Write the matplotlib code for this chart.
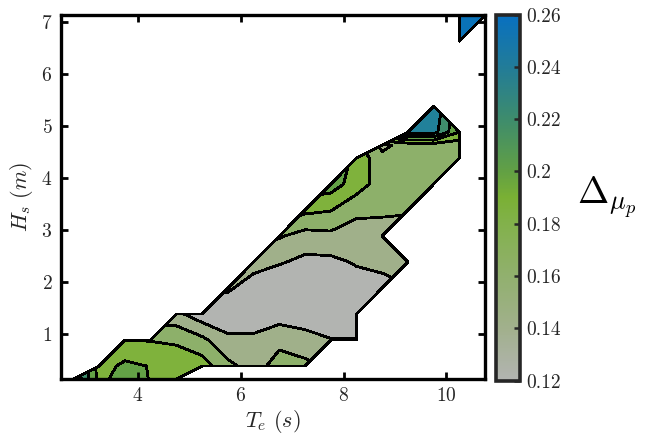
import numpy as np
import matplotlib
matplotlib.use("Agg")
import matplotlib.pyplot as plt
from matplotlib.colors import LinearSegmentedColormap, Normalize
from matplotlib.cm import ScalarMappable

plt.rcParams['font.family'] = 'serif'
plt.rcParams['font.serif'] = ['cmr10']
plt.rcParams['mathtext.fontset'] = 'cm'
plt.rcParams['axes.formatter.use_mathtext'] = True

nan = np.nan

# grid (energy period, significant wave height)
te = [2.75, 3.25, 3.75, 4.25, 4.75, 5.25, 5.75, 6.25, 6.75,
      7.25, 7.75, 8.25, 8.75, 9.25, 9.75, 10.25, 10.75]
hs = [0.125, 0.375, 0.875, 1.375, 1.875, 2.375, 2.875, 3.375,
      3.875, 4.375, 4.625, 4.875, 5.375, 5.875, 6.625, 7.125]

# delta mu_p, one row per Hs value (nan = no data)
delta_mu = [
    [0.26, 0.194, 0.21, 0.199, 0.19, nan, nan, nan, nan, nan, nan, nan, nan, nan, nan, nan, nan],
    [nan, 0.19, 0.205, 0.199, 0.188, 0.19, 0.165, 0.152, 0.168, 0.165, nan, nan, nan, nan, nan, nan, nan],
    [nan, nan, 0.18, 0.179, 0.178, 0.165, 0.145, 0.145, 0.155, 0.148, 0.141, 0.141, nan, nan, nan, nan, nan],
    [nan, nan, nan, nan, 0.145, 0.128, 0.125, 0.125, 0.13, 0.128, 0.125, 0.128, nan, nan, nan, nan, nan],
    [nan, nan, nan, nan, nan, nan, 0.143, 0.13, 0.122, 0.121, 0.122, 0.13, 0.136, nan, nan, nan, nan],
    [nan, nan, nan, nan, nan, nan, nan, 0.148, 0.142, 0.135, 0.135, 0.142, 0.143, 0.146, nan, nan, nan],
    [nan, nan, nan, nan, nan, nan, nan, nan, 0.162, 0.152, 0.155, 0.15, 0.152, nan, nan, nan, nan],
    [nan, nan, nan, nan, nan, nan, nan, nan, nan, 0.185, 0.181, 0.165, 0.163, 0.162, nan, nan, nan],
    [nan, nan, nan, nan, nan, nan, nan, nan, nan, nan, 0.21, 0.19, 0.17, 0.168, 0.165, nan, nan],
    [nan, nan, nan, nan, nan, nan, nan, nan, nan, nan, nan, 0.195, 0.165, 0.165, 0.166, 0.168, nan],
    [nan, nan, nan, nan, nan, nan, nan, nan, nan, nan, nan, nan, 0.155, 0.168, 0.17, 0.168, nan],
    [nan, nan, nan, nan, nan, nan, nan, nan, nan, nan, nan, nan, nan, 0.248, 0.248, 0.2, nan],
    [nan, nan, nan, nan, nan, nan, nan, nan, nan, nan, nan, nan, nan, nan, 0.255, nan, nan],
    [nan, nan, nan, nan, nan, nan, nan, nan, nan, nan, nan, nan, nan, nan, nan, nan, nan],
    [nan, nan, nan, nan, nan, nan, nan, nan, nan, nan, nan, nan, nan, nan, nan, 0.27, nan],
    [nan, nan, nan, nan, nan, nan, nan, nan, nan, nan, nan, nan, nan, nan, nan, 0.27, 0.27],
]

levels = [0.12, 0.14, 0.16, 0.18, 0.20, 0.22, 0.24, 0.26, 0.28]
band_colors = ['#b2b4b1', '#a0b08a', '#8db06a', '#7fb23c',
               '#63a146', '#3f8c6c', '#21819a', '#0a72b8']
cbar_ticks = [0.12, 0.14, 0.16, 0.18, 0.20, 0.22, 0.24, 0.26]
cbar_labels = ['0.12', '0.14', '0.16', '0.18', '0.2', '0.22', '0.24', '0.26']

# colormap used for the colorbar
cmap = LinearSegmentedColormap.from_list('gray_green_blue', [
    (0.0, '#b2b4b1'),
    (1 / 7, '#a1b08c'),
    (2 / 7, '#91b06e'),
    (3 / 7, '#82b14b'),
    (3.5 / 7, '#7ab034'),
    (4 / 7, '#62a044'),
    (5 / 7, '#3e8c6c'),
    (6 / 7, '#227c98'),
    (1.0, '#0870c0'),
])

Z = np.ma.masked_invalid(np.array(delta_mu))

fig = plt.figure(figsize=(6.58, 4.41), dpi=100)
ax = fig.add_axes([0.0922, 0.1406, 0.645, 0.825])
cax = fig.add_axes([0.7545, 0.137, 0.0365, 0.83])

cs = ax.contourf(te, hs, Z, levels=levels, colors=band_colors, corner_mask=True)
cs.set_edgecolor('black')
cs.set_linewidth(1.3)

ax.set_xlim(2.5, 10.75)
ax.set_ylim(0.125, 7.125)
ax.set_xticks([4, 6, 8, 10])
ax.set_yticks([1, 2, 3, 4, 5, 6, 7])
ax.tick_params(direction='in', length=5, width=2, top=True, right=True,
               labelsize=14, labelcolor='#262626', pad=6)
for s in ax.spines.values():
    s.set_linewidth(2.4)
    s.set_color('black')
ax.set_xlabel(r'$T_e\ (s)$', fontsize=16, color='#262626', labelpad=2)
ax.set_ylabel(r'$H_s\ (m)$', fontsize=16, color='#262626', labelpad=4)

sm = ScalarMappable(norm=Normalize(0.12, 0.26), cmap=cmap)
cb = fig.colorbar(sm, cax=cax, ticks=cbar_ticks)
cb.ax.set_yticklabels(cbar_labels)
cb.ax.tick_params(direction='in', length=4, width=1.8, color='#262626',
                  labelsize=14, labelcolor='#262626', pad=4)
cb.outline.set_linewidth(2.6)
cb.outline.set_edgecolor('#262626')
cb.set_label(r'$\Delta_{\mu_p}$', rotation=0, fontsize=27, labelpad=12,
             va='center', ha='left')

fig.savefig('out.png', dpi=100)
